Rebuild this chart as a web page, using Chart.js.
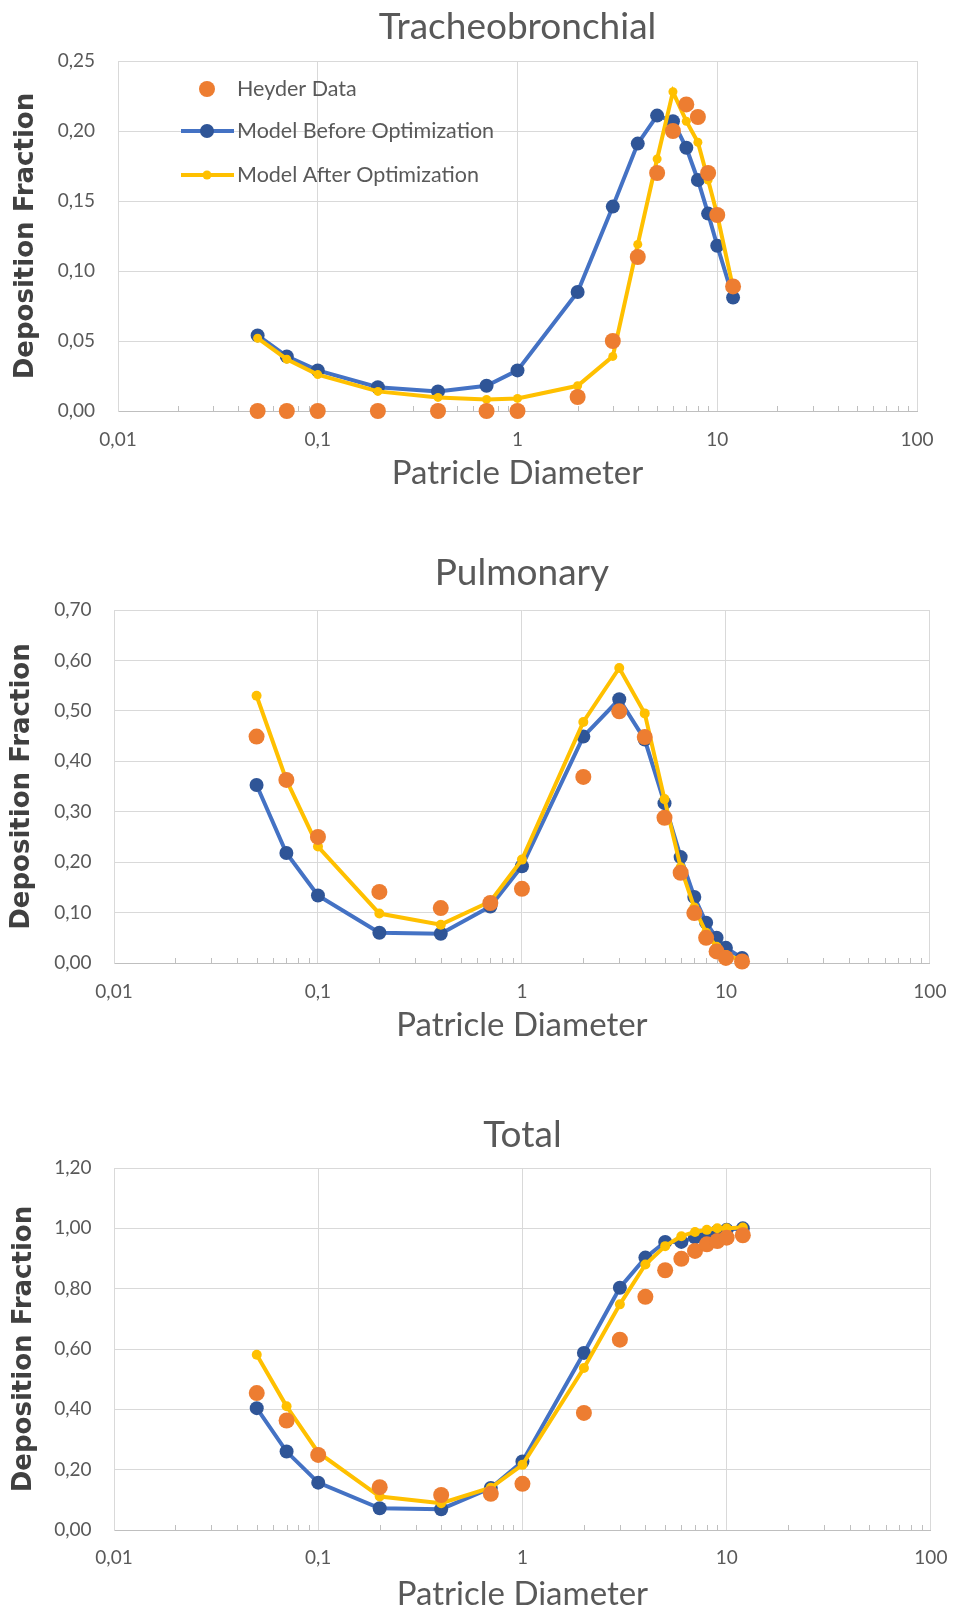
<!DOCTYPE html>
<html>
<head>
<meta charset="utf-8">
<script src="https://cdn.jsdelivr.net/npm/chart.js@4.4.1/dist/chart.umd.min.js"></script>
<style>
  html, body { margin: 0; padding: 0; background: #ffffff; }
  #wrap { position: relative; width: 964px; height: 1612px; overflow: hidden; background: #fff; }
  canvas { position: absolute; left: 0; }
</style>
</head>
<body>
<div id="wrap">
  <canvas id="tb" width="964" height="500" style="top:0px"></canvas>
  <canvas id="pul" width="964" height="520" style="top:530px"></canvas>
  <canvas id="tot" width="964" height="527" style="top:1085px"></canvas>
</div>
<script>
// Particle diameters (µm) shared by all three panels
const diameters = [0.05, 0.07, 0.1, 0.2, 0.4, 0.7, 1, 2, 3, 4, 5, 6, 7, 8, 9, 10, 12];

// Tracheobronchial deposition
const heyderTB = [0, 0, 0, 0, 0, 0, 0, 0.01, 0.05, 0.11, 0.17, 0.20, 0.219, 0.21, 0.17, 0.14, 0.089];
const beforeTB = [0.054, 0.039, 0.029, 0.017, 0.014, 0.018, 0.029, 0.085, 0.146, 0.191, 0.211, 0.207, 0.188, 0.165, 0.141, 0.118, 0.081];
const afterTB  = [0.052, 0.037, 0.026, 0.014, 0.0097, 0.0083, 0.009, 0.018, 0.039, 0.119, 0.18, 0.228, 0.207, 0.192, 0.165, 0.14, 0.088];

// Pulmonary deposition
const heyderPU = [0.449, 0.363, 0.250, 0.141, 0.109, 0.119, 0.147, 0.369, 0.499, 0.448, 0.288, 0.179, 0.099, 0.050, 0.023, 0.010, 0.003];
const beforePU = [0.353, 0.218, 0.134, 0.060, 0.058, 0.112, 0.192, 0.449, 0.523, 0.443, 0.317, 0.210, 0.131, 0.080, 0.050, 0.030, 0.010];
const afterPU  = [0.530, 0.363, 0.231, 0.098, 0.076, 0.122, 0.205, 0.478, 0.585, 0.495, 0.325, 0.190, 0.110, 0.060, 0.032, 0.016, 0.005];

// Total deposition
const heyderTO = [0.454, 0.363, 0.249, 0.142, 0.116, 0.120, 0.153, 0.388, 0.631, 0.773, 0.861, 0.899, 0.925, 0.947, 0.958, 0.969, 0.977];
const beforeTO = [0.404, 0.260, 0.157, 0.072, 0.069, 0.139, 0.227, 0.587, 0.803, 0.903, 0.955, 0.955, 0.970, 0.980, 0.990, 0.995, 1.000];
const afterTO  = [0.581, 0.410, 0.257, 0.111, 0.089, 0.140, 0.216, 0.537, 0.748, 0.880, 0.941, 0.974, 0.988, 0.995, 1.000, 1.000, 1.003];

// Axis ticks
const xTickValues = [0.01, 0.1, 1, 10, 100];
const xTickLabels = ['0,01', '0,1', '1', '10', '100'];

const seriesNames = ['Heyder Data', 'Model Before Optimization', 'Model After Optimization'];

const TEXT = '#595959';
const GRID = '#d9d9d9';
const ORANGE = '#ED7D31';
const BLUE_LINE = '#4472C4';
const BLUE_DOT = '#2F5597';
const YELLOW = '#FFC000';
const FONT = "Lato, 'Open Sans', sans-serif";

const pts = ys => diameters.map((d, i) => ({ x: d, y: ys[i] }));

// Short minor tick marks along the horizontal axis line
const minorTicks = {
  id: 'minorTicks',
  beforeDatasetsDraw(chart) {
    const { ctx, chartArea } = chart;
    const xs = chart.scales.x;
    ctx.save();
    ctx.strokeStyle = '#bfbfbf';
    ctx.lineWidth = 1;
    for (let dec = 0.01; dec < 100; dec *= 10) {
      for (let m = 2; m <= 9; m++) {
        const px = Math.round(xs.getPixelForValue(dec * m)) + 0.5;
        ctx.beginPath();
        ctx.moveTo(px, chartArea.bottom - 5);
        ctx.lineTo(px, chartArea.bottom);
        ctx.stroke();
      }
    }
    ctx.restore();
  }
};

// Legend drawn inside the plot area (upper left)
const innerLegend = {
  id: 'innerLegend',
  afterDraw(chart, args, opts) {
    if (!opts.show) return;
    const { ctx } = chart;
    const mx = opts.x, rows = opts.rows;
    ctx.save();
    ctx.font = opts.font;
    ctx.textBaseline = 'middle';
    // Heyder Data
    ctx.beginPath(); ctx.arc(mx, rows[0], 8, 0, Math.PI * 2); ctx.fillStyle = ORANGE; ctx.fill();
    // Model Before Optimization
    ctx.strokeStyle = BLUE_LINE; ctx.lineWidth = 4;
    ctx.beginPath(); ctx.moveTo(mx - 26, rows[1]); ctx.lineTo(mx + 27, rows[1]); ctx.stroke();
    ctx.beginPath(); ctx.arc(mx, rows[1], 7, 0, Math.PI * 2); ctx.fillStyle = BLUE_DOT; ctx.fill();
    // Model After Optimization
    ctx.strokeStyle = YELLOW;
    ctx.beginPath(); ctx.moveTo(mx - 26, rows[2]); ctx.lineTo(mx + 27, rows[2]); ctx.stroke();
    ctx.beginPath(); ctx.arc(mx, rows[2], 4.5, 0, Math.PI * 2); ctx.fillStyle = YELLOW; ctx.fill();
    ctx.fillStyle = TEXT;
    seriesNames.forEach((n, i) => ctx.fillText(n, opts.textX, rows[i]));
    ctx.restore();
  }
};

function makeChart(id, title, heyder, before, after, L) {
  return new Chart(document.getElementById(id), {
    type: 'scatter',
    data: {
      datasets: [
        { label: seriesNames[0], data: pts(heyder), order: 0, showLine: false, clip: false,
          pointRadius: 8, pointHoverRadius: 8, backgroundColor: ORANGE, borderColor: ORANGE, pointBorderWidth: 0 },
        { label: seriesNames[2], data: pts(after), order: 1, showLine: true, clip: false, borderColor: YELLOW, borderWidth: 4,
          pointRadius: L.yr, pointBackgroundColor: YELLOW, pointBorderColor: YELLOW, pointBorderWidth: 0, tension: 0 },
        { label: seriesNames[1], data: pts(before), order: 2, showLine: true, clip: false, borderColor: BLUE_LINE, borderWidth: 4,
          pointRadius: 7, pointBackgroundColor: BLUE_DOT, pointBorderColor: BLUE_DOT, pointBorderWidth: 0, tension: 0 }
      ]
    },
    options: {
      responsive: false,
      animation: false,
      devicePixelRatio: 1,
      layout: { padding: { left: 0, right: L.right, top: 0, bottom: 0 } },
      plugins: {
        legend: { display: false },
        tooltip: { enabled: false },
        title: {
          display: true, text: title, color: TEXT, fullSize: false,
          font: { family: FONT, size: 37, weight: 'normal', lineHeight: 1.1 },
          padding: { top: L.tTop, bottom: L.tBot }
        },
        innerLegend: L.legend || { show: false }
      },
      scales: {
        x: {
          type: 'logarithmic', min: 0.01, max: 100,
          afterBuildTicks: s => { s.ticks = xTickValues.map(v => ({ value: v })); },
          afterFit: s => { s.height = L.xh; },
          ticks: { color: TEXT, font: { family: FONT, size: 19 }, padding: L.xpad,
                   autoSkip: false, maxRotation: 0,
                   callback: v => xTickLabels[xTickValues.indexOf(v)] ?? '' },
          grid: { color: GRID, drawTicks: false, lineWidth: 1 },
          border: { color: '#bfbfbf', width: 1 },
          title: { display: true, text: 'Patricle Diameter', color: TEXT,
                   font: { family: FONT, size: 33, lineHeight: 1 }, padding: { top: 0, bottom: L.xtb } }
        },
        y: {
          min: 0, max: L.ymax,
          afterFit: s => { s.width = L.yw; },
          ticks: { stepSize: L.step, color: TEXT, font: { family: FONT, size: 19 }, padding: L.ypad,
                   callback: v => v.toFixed(2).replace('.', ',') },
          grid: { color: GRID, drawTicks: false, lineWidth: 1 },
          border: { color: GRID, width: 1 },
          title: { display: true, text: 'Deposition Fraction', color: '#404040',
                   font: { family: "'DejaVu Sans', sans-serif", size: 26, weight: 'bold', lineHeight: 1.2 },
                   padding: { top: L.ytp, bottom: 0 } }
        }
      }
    },
    plugins: [minorTicks, innerLegend]
  });
}

// Title block: lineHeight 37*1.1 = 40.7, centre = padding.top + 20.35
makeChart('tb', 'Tracheobronchial', heyderTB, beforeTB, afterTB, {
  right: 47, tTop: 6.6, tBot: 13.7, xh: 89, xpad: 17, xtb: 10, yw: 118, ypad: 23, ytp: 11,
  ymax: 0.25, step: 0.05, yr: 4.5,
  legend: { show: true, x: 207, textX: 237, rows: [89, 131, 175], font: "21.5px " + FONT }
});
makeChart('pul', 'Pulmonary', heyderPU, beforePU, afterPU, {
  right: 24, tTop: 22.5, tBot: 16.8, xh: 87, xpad: 17.6, xtb: 8.5, yw: 114, ypad: 22.5, ytp: 7,
  ymax: 0.70, step: 0.10, yr: 5
});
makeChart('tot', 'Total', heyderTO, beforeTO, afterTO, {
  right: 21, tTop: 29.5, tBot: 12.8, xh: 82, xpad: 16.6, xtb: 1.5, yw: 114, ypad: 22.5, ytp: 9,
  ymax: 1.20, step: 0.20, yr: 5
});
</script>
</body>
</html>
